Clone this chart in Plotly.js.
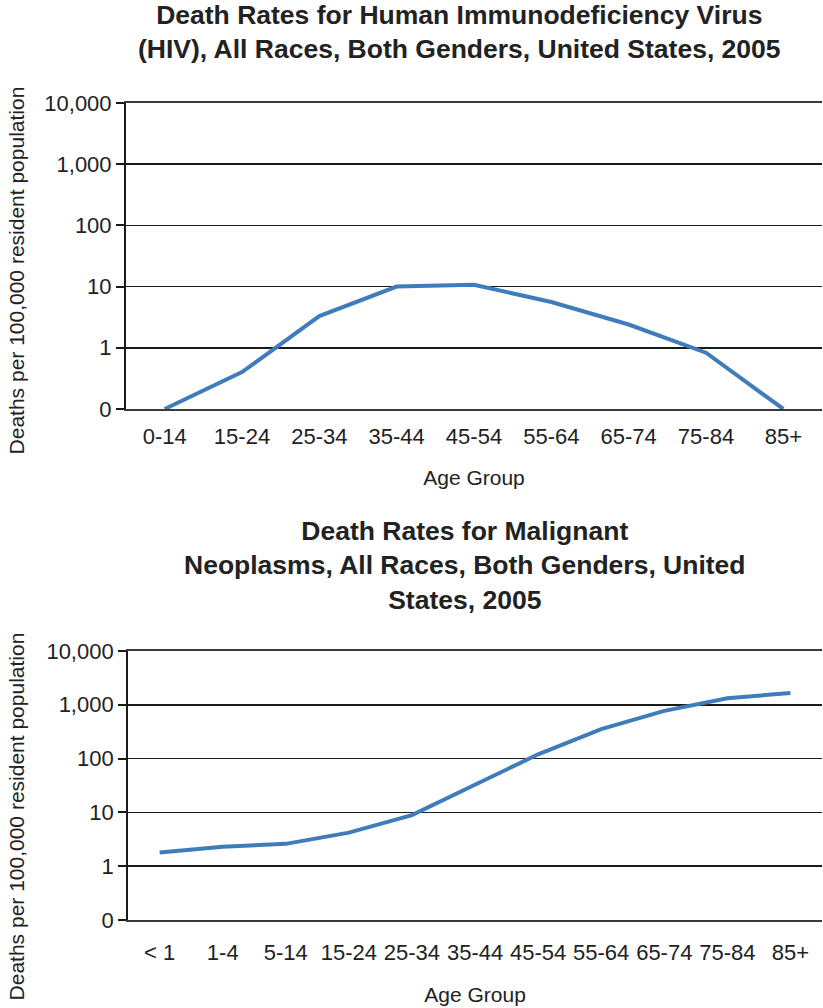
<!DOCTYPE html>
<html>
<head>
<meta charset="utf-8">
<script src="https://cdn.plot.ly/plotly-3.0.1.min.js"></script>
<style>html,body{margin:0;padding:0;background:#fff}#chart{width:823px;height:1008px}</style>
</head>
<body>
<div id="chart"></div>
<script>
// ---- data ----
const hivAges = ['0-14','15-24','25-34','35-44','45-54','55-64','65-74','75-84','85+'];
const hivRates = [0.1, 0.4, 3.3, 10, 10.7, 5.6, 2.4, 0.83, 0.1];
const cancerAges = ['< 1','1-4','5-14','15-24','25-34','35-44','45-54','55-64','65-74','75-84','85+'];
const cancerRates = [1.8, 2.3, 2.6, 4.2, 8.9, 33, 120, 353, 770, 1320, 1660];
const yTickVals = [0.1, 1, 10, 100, 1000, 10000];
const yTickText = ['0', '1', '10', '100', '1,000', '10,000'];
const hivTitle = 'Death Rates for Human Immunodeficiency Virus<br>(HIV), All Races, Both Genders, United States, 2005';
const cancerTitle = 'Death Rates for Malignant<br>Neoplasms, All Races, Both Genders, United<br>States, 2005';
const yTitle = 'Deaths per 100,000 resident population';
const xTitle = 'Age Group';

const FONT = 'Liberation Sans, Arial, Helvetica, sans-serif';
const TXT = '#222222';
const LINE = '#3f7cbc';

const traces = [
  {x: hivAges, y: hivRates, type: 'scatter', mode: 'lines', xaxis: 'x', yaxis: 'y',
   line: {color: LINE, width: 4}, hoverinfo: 'x+y'},
  {x: cancerAges, y: cancerRates, type: 'scatter', mode: 'lines', xaxis: 'x2', yaxis: 'y2',
   line: {color: LINE, width: 4}, hoverinfo: 'x+y'}
];

function yAxis(domain, anchor) {
  return {
    domain: domain, anchor: anchor, type: 'log', range: [-1, 4],
    tickvals: yTickVals, ticktext: yTickText,
    showgrid: true, gridcolor: '#1a1a1a', gridwidth: 1.5,
    showline: true, linecolor: '#1a1a1a', linewidth: 2,
    ticks: 'outside', ticklen: 8, tickwidth: 2, tickcolor: '#1a1a1a',
    tickfont: {family: FONT, size: 22, color: TXT},
    zeroline: false, fixedrange: true
  };
}
function xAxis(domain, anchor, n, labelGap, titleGap) {
  return {
    domain: domain, anchor: anchor, type: 'category', range: [-0.5, n - 0.5],
    showgrid: false, showline: true, linecolor: '#3a3a3a', linewidth: 2, mirror: true,
    ticks: '', ticklabelstandoff: labelGap,
    tickfont: {family: FONT, size: 22, color: TXT},
    fixedrange: true,
    title: {text: xTitle, font: {family: FONT, size: 21, color: TXT}, standoff: titleGap}
  };
}

const layout = {
  width: 823, height: 1008,
  margin: {l: 126, r: 1, t: 103, b: 88},
  paper_bgcolor: '#ffffff', plot_bgcolor: '#ffffff',
  showlegend: false,
  font: {family: FONT, color: TXT},
  xaxis: xAxis([0, 1], 'y', hivAges.length, 7, 22),
  yaxis: yAxis([0.6255, 1], 'x'),
  xaxis2: xAxis([0.003, 1], 'y2', cancerAges.length, 12, 23),
  yaxis2: yAxis([0, 0.3293], 'x2'),
  annotations: [
    {text: '<b>' + hivTitle + '</b>', xref: 'paper', yref: 'paper', x: 0.4785, y: 1.0875,
     xanchor: 'center', yanchor: 'middle', showarrow: false, align: 'center',
     font: {family: FONT, size: 26.5, color: TXT}},
    {text: '<b>' + cancerTitle + '</b>', xref: 'paper', yref: 'paper', x: 0.487, y: 0.4345,
     xanchor: 'center', yanchor: 'middle', showarrow: false, align: 'center',
     font: {family: FONT, size: 26.5, color: TXT}},
    {text: yTitle, xref: 'paper', yref: 'paper', x: -0.156, y: 0.7956, textangle: -90,
     xanchor: 'center', yanchor: 'middle', showarrow: false,
     font: {family: FONT, size: 21, color: TXT}},
    {text: yTitle, xref: 'paper', yref: 'paper', x: -0.156, y: 0.1273, textangle: -90,
     xanchor: 'center', yanchor: 'middle', showarrow: false,
     font: {family: FONT, size: 21, color: TXT}}
  ]
};

Plotly.newPlot('chart', traces, layout, {displayModeBar: false, staticPlot: true});
</script>
</body>
</html>
